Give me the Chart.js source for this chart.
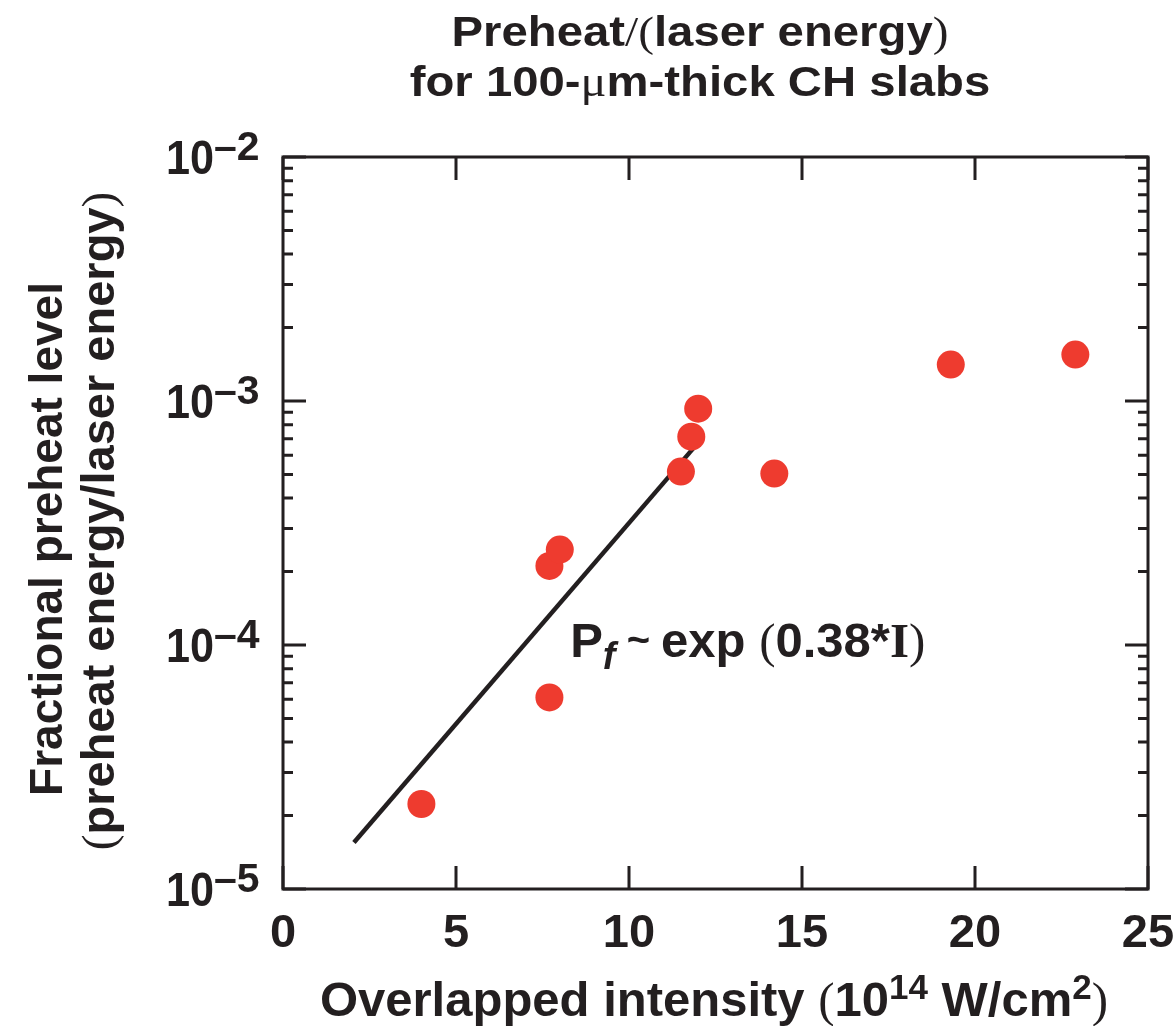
<!DOCTYPE html>
<html>
<head>
<meta charset="utf-8">
<script src="https://cdn.jsdelivr.net/npm/chart.js@4.4.1/dist/chart.umd.min.js"></script>
<style>
    html, body { margin: 0; padding: 0; background: #fff; }
    #wrap { width: 1175px; height: 1026px; }
</style>
</head>
<body>
<div id="wrap"><canvas id="preheat" width="1175" height="1026"></canvas></div>
<script>
// measured points: overlapped intensity (1e14 W/cm2) vs fractional preheat
const intensity = [4.0, 7.7, 7.7, 8.0, 11.5, 11.8, 12.0, 14.2, 19.3, 22.9];
const preheat = [2.23e-5, 6.1e-5, 2.11e-4, 2.46e-4, 5.14e-4, 7.14e-4, 9.3e-4, 5.04e-4, 1.41e-3, 1.55e-3];

// fit line Pf ~ exp(0.38*I), end points
const fitIntensity = [2.05, 11.9];
const fitPreheat = [1.55e-5, 6.5e-4];

// axis ticks
const xTicks = [0, 5, 10, 15, 20, 25];
const xTickLabels = ['0', '5', '10', '15', '20', '25'];
const yDecades = [1e-5, 1e-4, 1e-3, 1e-2];
const yExponents = ['\u20135', '\u20134', '\u20133', '\u20132'];
const yMinor = [2, 3, 4, 5, 6, 7, 8, 9];

// label anchor for the fit formula (data space)
const formulaAt = { x: 8.3, y: 8.95e-5 };

const INK = '#231F20';
const DOT = '#EE3B2F';
const SANS = '"Liberation Sans", Arial, Helvetica, sans-serif';
const SERIF = '"Liberation Serif", "Times New Roman", serif';

// draw a row of text pieces with different fonts
function drawRuns(ctx, runs, x, y, align) {
    let total = 0;
    runs.forEach((r) => {
        ctx.font = r.font;
        r.w = ctx.measureText(r.text).width;
        total += r.w;
    });
    let cx = x;
    if (align === 'center') cx = x - total / 2;
    if (align === 'right') cx = x - total;
    ctx.textAlign = 'left';
    ctx.textBaseline = 'alphabetic';
    runs.forEach((r) => {
        ctx.font = r.font;
        ctx.fillText(r.text, cx, y + (r.dy || 0));
        cx += r.w;
    });
}

const frameAndText = {
    id: 'frameAndText',
    afterDraw(chart) {
        const { ctx, chartArea: a, scales } = chart;
        const xs = scales.x;
        const ys = scales.y;
        ctx.save();
        ctx.strokeStyle = INK;
        ctx.fillStyle = INK;
        ctx.lineWidth = 3;
        ctx.lineCap = 'butt';

        // frame
        ctx.strokeRect(a.left, a.top, a.right - a.left, a.bottom - a.top);

        // x ticks, inward, top and bottom
        ctx.beginPath();
        xTicks.forEach((v) => {
            const px = xs.getPixelForValue(v);
            ctx.moveTo(px, a.bottom);
            ctx.lineTo(px, a.bottom - 23);
            ctx.moveTo(px, a.top);
            ctx.lineTo(px, a.top + 23);
        });
        // y ticks, inward, left and right
        yDecades.forEach((d, i) => {
            const py = ys.getPixelForValue(d);
            ctx.moveTo(a.left, py);
            ctx.lineTo(a.left + 23, py);
            ctx.moveTo(a.right, py);
            ctx.lineTo(a.right - 23, py);
            if (i < yDecades.length - 1) {
                yMinor.forEach((m) => {
                    const pm = ys.getPixelForValue(m * d);
                    ctx.moveTo(a.left, pm);
                    ctx.lineTo(a.left + 10, pm);
                    ctx.moveTo(a.right, pm);
                    ctx.lineTo(a.right - 10, pm);
                });
            }
        });
        ctx.stroke();

        // x tick labels
        ctx.font = `bold 47px ${SANS}`;
        ctx.textAlign = 'center';
        ctx.textBaseline = 'alphabetic';
        xTicks.forEach((v, i) => {
            ctx.fillText(xTickLabels[i], xs.getPixelForValue(v), a.bottom + 58);
        });

        // y tick labels 10^n
        yDecades.forEach((d, i) => {
            const py = ys.getPixelForValue(d);
            ctx.save();
            ctx.translate(214, py + 17);
            ctx.scale(0.96, 1.06);
            ctx.font = `bold 45px ${SANS}`;
            ctx.textAlign = 'right';
            ctx.fillText('10', 0, 0);
            ctx.restore();
            ctx.save();
            ctx.translate(214, py + 3);
            ctx.scale(1.05, 1.05);
            ctx.font = `bold 39px ${SANS}`;
            ctx.textAlign = 'left';
            ctx.fillText(yExponents[i], 0, 0);
            ctx.restore();
        });

        // title
        ctx.save();
        ctx.translate(700, 0);
        ctx.scale(1.1, 1);
        drawRuns(ctx, [
            { text: 'Preheat', font: `bold 43px ${SANS}` },
            { text: '/(', font: `43px ${SERIF}` },
            { text: 'laser energy', font: `bold 43px ${SANS}` },
            { text: ')', font: `43px ${SERIF}` },
        ], 0, 46, 'center');
        drawRuns(ctx, [
            { text: 'for 100-', font: `bold 43px ${SANS}` },
            { text: '\u03bc', font: `44px ${SERIF}` },
            { text: 'm-thick CH slabs', font: `bold 43px ${SANS}` },
        ], 0, 96, 'center');
        ctx.restore();

        // x axis title
        drawRuns(ctx, [
            { text: 'Overlapped intensity ', font: `bold 49px ${SANS}` },
            { text: '(', font: `49px ${SERIF}` },
            { text: '10', font: `bold 49px ${SANS}` },
            { text: '14', font: `bold 35px ${SANS}`, dy: -17 },
            { text: ' W/cm', font: `bold 49px ${SANS}` },
            { text: '2', font: `bold 35px ${SANS}`, dy: -17 },
            { text: ')', font: `49px ${SERIF}` },
        ], 714, 1016, 'center');

        // y axis title, two rotated lines
        ctx.save();
        ctx.translate(62, 539);
        ctx.rotate(-Math.PI / 2);
        drawRuns(ctx, [
            { text: 'Fractional preheat level', font: `bold 46px ${SANS}` },
        ], 0, 0, 'center');
        ctx.restore();
        ctx.save();
        ctx.translate(114, 521);
        ctx.rotate(-Math.PI / 2);
        drawRuns(ctx, [
            { text: '(', font: `47px ${SERIF}` },
            { text: 'preheat energy/laser energy', font: `bold 47px ${SANS}` },
            { text: ')', font: `47px ${SERIF}` },
        ], 0, 0, 'center');
        ctx.restore();

        // fit formula
        drawRuns(ctx, [
            { text: 'P', font: `bold 49px ${SANS}` },
            { text: 'f', font: `italic bold 38px ${SANS}`, dy: 12 },
            { text: ' ~ ', font: `bold 40px ${SANS}`, dy: -4 },
            { text: 'exp ', font: `bold 49px ${SANS}` },
            { text: '(', font: `49px ${SERIF}` },
            { text: '0.38*', font: `bold 49px ${SANS}` },
            { text: 'I', font: `bold 49px ${SERIF}` },
            { text: ')', font: `49px ${SERIF}` },
        ], xs.getPixelForValue(formulaAt.x), ys.getPixelForValue(formulaAt.y), 'left');

        ctx.restore();
    },
};

const ctx = document.getElementById('preheat').getContext('2d');

const chart = new Chart(ctx, {
    type: 'scatter',
    data: {
        datasets: [
            {
                label: 'Measured',
                data: intensity.map((x, i) => ({ x, y: preheat[i] })),
                backgroundColor: DOT,
                borderWidth: 0,
                pointRadius: 14,
                pointHoverRadius: 14,
                order: 0,
            },
            {
                type: 'line',
                label: 'Fit',
                data: fitIntensity.map((x, i) => ({ x, y: fitPreheat[i] })),
                borderColor: INK,
                borderWidth: 4.5,
                pointRadius: 0,
                showLine: true,
                fill: false,
                order: 1,
            },
        ],
    },
    options: {
        responsive: false,
        animation: false,
        devicePixelRatio: 1,
        events: [],
        layout: {
            padding: { top: 157, right: 27, left: 0, bottom: 0 },
        },
        plugins: {
            legend: { display: false },
            tooltip: { enabled: false },
            title: { display: false },
        },
        scales: {
            x: {
                type: 'linear',
                min: 0,
                max: 25,
                grid: { display: false },
                border: { display: false },
                ticks: { display: false },
                afterFit(scale) {
                    scale.height = 137;
                },
            },
            y: {
                type: 'logarithmic',
                min: 1e-5,
                max: 1e-2,
                grid: { display: false },
                border: { display: false },
                ticks: { display: false },
                afterFit(scale) {
                    scale.width = 283;
                },
            },
        },
    },
    plugins: [frameAndText],
});
</script>
</body>
</html>
